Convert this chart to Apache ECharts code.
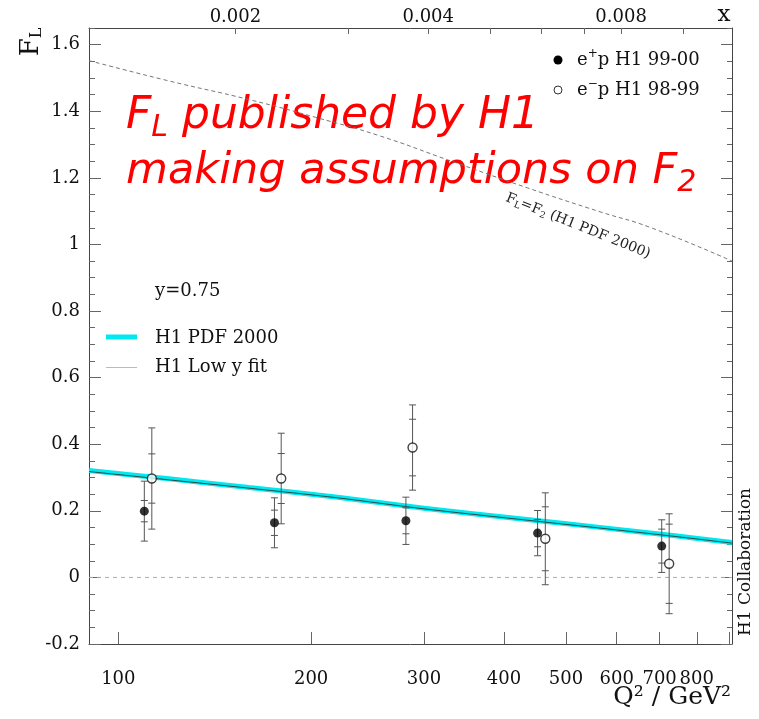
<!DOCTYPE html>
<html>
<head>
<meta charset="utf-8">
<script src="https://cdn.jsdelivr.net/npm/echarts@6/dist/echarts.min.js"></script>
<style>
  html, body { margin: 0; padding: 0; background: #fff; }
  #chart { width: 759px; height: 719px; }
</style>
</head>
<body>
<div id="chart"></div>
<script>
// H1 measurement of F_L at y = 0.75 versus Q^2

// e+p H1 99-00 (filled points)
const ePlusQ2   = [109.8, 175.3, 281.2, 451.4, 705.3];
const ePlusFL   = [0.199, 0.164, 0.170, 0.133, 0.094];
const ePlusStat = [0.032, 0.038, 0.039, 0.041, 0.051];
const ePlusTot  = [0.090, 0.075, 0.071, 0.068, 0.079];

// e-p H1 98-99 (open points)
const eMinusQ2   = [112.8, 179.6, 288.0, 464.1, 724.4];
const eMinusFL   = [0.297, 0.297, 0.390, 0.116, 0.041];
const eMinusStat = [0.074, 0.075, 0.085, 0.096, 0.119];
const eMinusTot  = [0.152, 0.136, 0.128, 0.138, 0.150];

// H1 PDF 2000 prediction and the low-y fit
const pdfQ2   = [90, 120, 160, 220, 300, 420, 560, 740, 908];
const pdfFL   = [0.321, 0.296, 0.270, 0.241, 0.208, 0.177, 0.151, 0.125, 0.105];
const lowyFL  = [0.318, 0.293, 0.268, 0.239, 0.206, 0.175, 0.149, 0.123, 0.103];

// Upper limit F_L = F_2 from H1 PDF 2000
const f2Q2 = [90, 120, 160, 203, 256, 330, 435, 565, 677, 908];
const f2FL = [1.552, 1.491, 1.435, 1.382, 1.326, 1.251, 1.170, 1.098, 1.051, 0.950];

// zero reference line
const zeroQ2 = [90, 908];
const zeroFL = [0, 0];

// axis ticks and labels
const q2Min = 90, q2Max = 908;
const q2Ticks  = [100, 200, 300, 400, 500, 600, 700, 800, 900];
const q2Labels = [100, 200, 300, 400, 500, 600, 700, 800];
const fMin = -0.2, fMax = 1.65;
const fMajor = [-0.2, 0, 0.2, 0.4, 0.6, 0.8, 1.0, 1.2, 1.4, 1.6];
const fMinor = [-0.15, -0.1, -0.05, 0.05, 0.1, 0.15, 0.25, 0.3, 0.35, 0.45, 0.5, 0.55,
                0.65, 0.7, 0.75, 0.85, 0.9, 0.95, 1.05, 1.1, 1.15, 1.25, 1.3, 1.35,
                1.45, 1.5, 1.55, 1.65];
const xTicks  = [0.002, 0.003, 0.004, 0.005, 0.006, 0.007, 0.008, 0.01];
const xLabels = [0.002, 0.004, 0.008];

// Bjorken x at fixed inelasticity: x = Q^2 / (s y)
const Ee = 27.6, Ep = 920, yInel = 0.75;
const sY = 4 * Ee * Ep * yInel;

const SERIF = 'DejaVu Serif';
const AXIS_COLOR = '#444';
const TICK_COLOR = '#666';

function pairs(xs, ys) { return xs.map((x, i) => [x, ys[i]]); }

function errorBars(params, api) {
  const q = api.value(0), v = api.value(1), st = api.value(2), tot = api.value(3);
  const x = api.coord([q, v])[0];
  const yTop = api.coord([q, v + tot])[1];
  const yBot = api.coord([q, v - tot])[1];
  const sTop = api.coord([q, v + st])[1];
  const sBot = api.coord([q, v - st])[1];
  const hw = 3.5;
  const style = { stroke: '#555', lineWidth: 1 };
  const cap = (y) => ({ type: 'line', shape: { x1: x - hw, y1: y, x2: x + hw, y2: y }, style });
  return {
    type: 'group',
    children: [
      { type: 'line', shape: { x1: x, y1: yTop, x2: x, y2: yBot }, style },
      cap(yTop), cap(yBot), cap(sTop), cap(sBot)
    ]
  };
}

const chart = echarts.init(document.getElementById('chart'), null, { renderer: 'canvas' });

const labelText = { fontFamily: SERIF, fontSize: 18, color: '#111' };

chart.setOption({
  animation: false,
  backgroundColor: '#fff',
  grid: { left: 89, top: 28, width: 643, height: 616, containLabel: false },
  xAxis: [
    {
      type: 'log', position: 'bottom', min: q2Min, max: q2Max,
      axisLine: { show: true, onZero: false, lineStyle: { color: AXIS_COLOR, width: 1 } },
      axisTick: { show: true, inside: true, length: 12, customValues: q2Ticks, lineStyle: { color: TICK_COLOR } },
      axisLabel: Object.assign({ show: true, margin: 26, customValues: q2Labels, formatter: v => String(Math.round(v)) }, labelText),
      splitLine: { show: false }, minorTick: { show: false }
    },
    {
      type: 'log', position: 'top', min: q2Min / sY, max: q2Max / sY,
      axisLine: { show: true, onZero: false, lineStyle: { color: AXIS_COLOR, width: 1 } },
      axisTick: { show: true, inside: true, length: 6, customValues: xTicks, lineStyle: { color: TICK_COLOR } },
      axisLabel: Object.assign({ show: true, margin: 2, customValues: xLabels, formatter: v => v.toFixed(3) }, labelText),
      splitLine: { show: false }
    }
  ],
  yAxis: [
    {
      type: 'value', position: 'left', min: fMin, max: fMax,
      axisLine: { show: true, onZero: false, lineStyle: { color: AXIS_COLOR, width: 1 } },
      axisTick: { show: true, inside: true, length: 12, customValues: fMajor, lineStyle: { color: TICK_COLOR } },
      axisLabel: Object.assign({ show: true, margin: 9, customValues: fMajor,
        formatter: v => String(Math.round(v * 10) / 10) }, labelText),
      splitLine: { show: false }
    },
    {
      type: 'value', position: 'left', min: fMin, max: fMax,
      axisLine: { show: false, onZero: false },
      axisTick: { show: true, inside: true, length: 6, customValues: fMinor, lineStyle: { color: TICK_COLOR } },
      axisLabel: { show: false }, splitLine: { show: false }
    },
    {
      type: 'value', position: 'right', min: fMin, max: fMax,
      axisLine: { show: true, onZero: false, lineStyle: { color: AXIS_COLOR, width: 1 } },
      axisTick: { show: true, inside: true, length: 11, customValues: fMajor, lineStyle: { color: TICK_COLOR } },
      axisLabel: { show: false }, splitLine: { show: false }
    },
    {
      type: 'value', position: 'right', min: fMin, max: fMax,
      axisLine: { show: false, onZero: false },
      axisTick: { show: true, inside: true, length: 5, customValues: fMinor, lineStyle: { color: TICK_COLOR } },
      axisLabel: { show: false }, splitLine: { show: false }
    }
  ],
  series: [
    {
      name: 'zero', type: 'line', data: pairs(zeroQ2, zeroFL), symbol: 'none', silent: true,
      lineStyle: { color: '#aaa', width: 1, type: [4, 4] }, z: 1
    },
    {
      name: 'F_L = F_2', type: 'line', data: pairs(f2Q2, f2FL), symbol: 'none', smooth: 0.5, silent: true,
      lineStyle: { color: '#777', width: 1, type: [4, 3] }, z: 1
    },
    {
      name: 'H1 PDF 2000', type: 'line', data: pairs(pdfQ2, pdfFL), symbol: 'none', smooth: 0.3,
      lineStyle: { color: '#00e8f0', width: 5 }, z: 2
    },
    {
      name: 'H1 Low y fit', type: 'line', data: pairs(pdfQ2, lowyFL), symbol: 'none', smooth: 0.3,
      lineStyle: { color: '#2a4a4a', width: 1 }, z: 3
    },
    {
      name: 'e+p errors', type: 'custom', renderItem: errorBars, z: 4,
      encode: { x: 0, y: 1 },
      data: ePlusQ2.map((q, i) => [q, ePlusFL[i], ePlusStat[i], ePlusTot[i]])
    },
    {
      name: 'e-p errors', type: 'custom', renderItem: errorBars, z: 4,
      encode: { x: 0, y: 1 },
      data: eMinusQ2.map((q, i) => [q, eMinusFL[i], eMinusStat[i], eMinusTot[i]])
    },
    {
      name: 'e+p H1 99-00', type: 'scatter', data: pairs(ePlusQ2, ePlusFL),
      symbol: 'circle', symbolSize: 9, itemStyle: { color: '#000' }, z: 5
    },
    {
      name: 'e-p H1 98-99', type: 'scatter', data: pairs(eMinusQ2, eMinusFL),
      symbol: 'circle', symbolSize: 9, itemStyle: { color: '#fff', borderColor: '#111', borderWidth: 1.4 }, z: 5
    }
  ],
  graphic: [
    // axis titles
    {
      type: 'text', x: 31, y: 42, rotation: Math.PI / 2,
      style: {
        text: '{a|F}{b|L}', align: 'center', verticalAlign: 'middle',
        rich: {
          a: { fontFamily: SERIF, fontSize: 26, fill: '#111' },
          b: { fontFamily: SERIF, fontSize: 16, fill: '#111', padding: [12, 0, 0, 0] }
        }
      }
    },
    {
      type: 'text', x: 731, y: 697,
      style: { text: 'Q² / GeV²', fontFamily: SERIF, fontSize: 25, fill: '#111', align: 'right', verticalAlign: 'middle' }
    },
    {
      type: 'text', x: 724, y: 15,
      style: { text: 'x', fontFamily: SERIF, fontSize: 23, fill: '#111', align: 'center', verticalAlign: 'middle' }
    },
    {
      type: 'text', x: 746, y: 562, rotation: Math.PI / 2,
      style: { text: 'H1 Collaboration', fontFamily: SERIF, fontSize: 17, fill: '#111', align: 'center', verticalAlign: 'middle' }
    },
    // label of the F_L = F_2 curve
    {
      type: 'text', x: 578, y: 226, rotation: -0.38,
      style: {
        text: '{a|F}{b|L}{a|=F}{b|2}{a| (H1 PDF 2000)}', align: 'center', verticalAlign: 'middle',
        rich: {
          a: { fontFamily: SERIF, fontSize: 14, fill: '#222' },
          b: { fontFamily: SERIF, fontSize: 9, fill: '#222', padding: [7, 0, 0, 0] }
        }
      }
    },
    // data legend, top right
    { type: 'circle', shape: { cx: 558, cy: 60, r: 4.5 }, style: { fill: '#000' } },
    {
      type: 'text', x: 577, y: 60,
      style: {
        text: '{a|e}{b|+}{a|p H1 99-00}', align: 'left', verticalAlign: 'middle',
        rich: {
          a: { fontFamily: SERIF, fontSize: 18, fill: '#111' },
          b: { fontFamily: SERIF, fontSize: 12, fill: '#111', padding: [0, 0, 12, 0] }
        }
      }
    },
    { type: 'circle', shape: { cx: 558, cy: 90, r: 4 }, style: { fill: '#fff', stroke: '#333', lineWidth: 1 } },
    {
      type: 'text', x: 577, y: 90,
      style: {
        text: '{a|e}{b|−}{a|p H1 98-99}', align: 'left', verticalAlign: 'middle',
        rich: {
          a: { fontFamily: SERIF, fontSize: 18, fill: '#111' },
          b: { fontFamily: SERIF, fontSize: 12, fill: '#111', padding: [0, 0, 12, 0] }
        }
      }
    },
    // curve legend, left
    {
      type: 'text', x: 155, y: 291,
      style: { text: 'y=0.75', fontFamily: SERIF, fontSize: 18, fill: '#111', align: 'left', verticalAlign: 'middle' }
    },
    { type: 'line', shape: { x1: 106, y1: 337, x2: 137, y2: 337 }, style: { stroke: '#00e8f0', lineWidth: 5 } },
    {
      type: 'text', x: 155, y: 338,
      style: { text: 'H1 PDF 2000', fontFamily: SERIF, fontSize: 18, fill: '#111', align: 'left', verticalAlign: 'middle' }
    },
    { type: 'line', shape: { x1: 106, y1: 367.5, x2: 137, y2: 367.5 }, style: { stroke: '#bbb', lineWidth: 1 } },
    {
      type: 'text', x: 155, y: 367,
      style: { text: 'H1 Low y fit', fontFamily: SERIF, fontSize: 18, fill: '#111', align: 'left', verticalAlign: 'middle' }
    },
    // red annotation
    {
      type: 'text', x: 126, y: 117,
      style: {
        text: '{f|F}{s|L}{f| published by H1}', align: 'left', verticalAlign: 'middle',
        rich: {
          f: { fontFamily: 'DejaVu Sans', fontStyle: 'italic', fontSize: 44, fill: '#ff0000' },
          s: { fontFamily: 'DejaVu Sans', fontStyle: 'italic', fontSize: 30, fill: '#ff0000', padding: [22, 0, 0, 0] }
        }
      }
    },
    {
      type: 'text', x: 126, y: 172,
      style: {
        text: '{f|making assumptions on F}{s|2}', align: 'left', verticalAlign: 'middle',
        rich: {
          f: { fontFamily: 'DejaVu Sans', fontStyle: 'italic', fontSize: 43, fill: '#ff0000' },
          s: { fontFamily: 'DejaVu Sans', fontStyle: 'italic', fontSize: 30, fill: '#ff0000', padding: [22, 0, 0, 0] }
        }
      }
    }
  ]
});
</script>
</body>
</html>
